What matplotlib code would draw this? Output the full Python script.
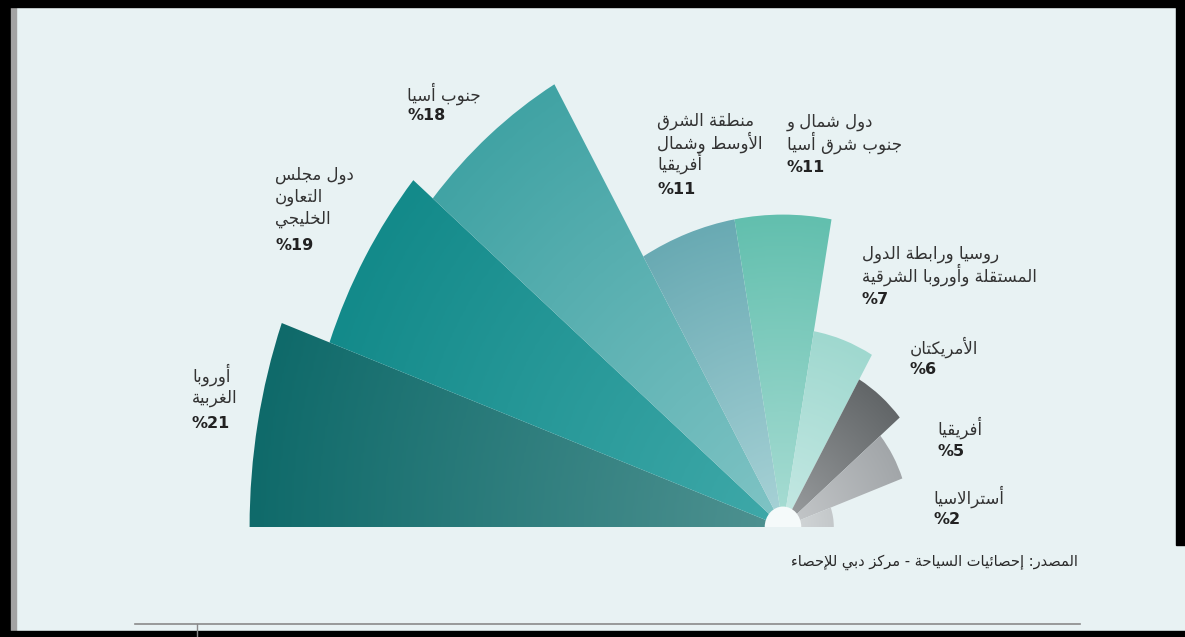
import numpy as np
import matplotlib
matplotlib.use("Agg")
import matplotlib.pyplot as plt
from matplotlib.patches import Wedge, Rectangle
from matplotlib.colors import LinearSegmentedColormap

# data
regions = [
    ["أوروبا", "الغربية"],
    ["دول مجلس", "التعاون", "الخليجي"],
    ["جنوب أسيا"],
    ["منطقة الشرق", "الأوسط وشمال", "أفريقيا"],
    ["دول شمال و", "جنوب شرق أسيا"],
    ["روسيا ورابطة الدول", "المستقلة وأوروبا الشرقية"],
    ["الأمريكتان"],
    ["أفريقيا"],
    ["أسترالاسيا"],
]
shares = [21, 19, 18, 11, 11, 7, 6, 5, 2]
source = "المصدر: إحصائيات السياحة - مركز دبي للإحصاء"

# wedge colours (inner, outer)
inner_cols = ["#4f9291", "#3fa9a9", "#80c4c5", "#a9d3d7", "#a9ddd4", "#c6e9e4", "#9c9fa1", "#c6c9cb", "#d6dadb"]
outer_cols = ["#0f6a6a", "#138a8a", "#41a3a4", "#69aab3", "#62bfae", "#9fd8cf", "#626668", "#a2a6a9", "#c4c8ca"]

# label placement (pixels: x, line y's, percent y)
label_pos = [
    (192, [375, 398], 423),
    (275, [175, 197, 219], 245),
    (407, [94], 115),
    (657, [121, 142, 163], 189),
    (787, [122, 143], 167),
    (862, [254, 275], 300),
    (910, [347], 370),
    (937, [428], 452),
    (933, [497], 520),
]

# --- simple arabic shaping (presentation forms) ---
FORMS = {'ء': (0xFE80, 1), 'آ': (0xFE81, 2), 'أ': (0xFE83, 2), 'ؤ': (0xFE85, 2), 'إ': (0xFE87, 2),
         'ئ': (0xFE89, 4), 'ا': (0xFE8D, 2), 'ب': (0xFE8F, 4), 'ة': (0xFE93, 2), 'ت': (0xFE95, 4),
         'ث': (0xFE99, 4), 'ج': (0xFE9D, 4), 'ح': (0xFEA1, 4), 'خ': (0xFEA5, 4), 'د': (0xFEA9, 2),
         'ذ': (0xFEAB, 2), 'ر': (0xFEAD, 2), 'ز': (0xFEAF, 2), 'س': (0xFEB1, 4), 'ش': (0xFEB5, 4),
         'ص': (0xFEB9, 4), 'ض': (0xFEBD, 4), 'ط': (0xFEC1, 4), 'ظ': (0xFEC5, 4), 'ع': (0xFEC9, 4),
         'غ': (0xFECD, 4), 'ف': (0xFED1, 4), 'ق': (0xFED5, 4), 'ك': (0xFED9, 4), 'ل': (0xFEDD, 4),
         'م': (0xFEE1, 4), 'ن': (0xFEE5, 4), 'ه': (0xFEE9, 4), 'و': (0xFEED, 2), 'ى': (0xFEEF, 2),
         'ي': (0xFEF1, 4)}
LAM_ALEF = {'آ': 0xFEF5, 'أ': 0xFEF7, 'إ': 0xFEF9, 'ا': 0xFEFB}


def ar(s):
    # contextual forms, then reverse for right-to-left display
    out = []
    i = 0
    n = len(s)
    while i < n:
        ch = s[i]
        if ch not in FORMS:
            out.append(ch)
            i += 1
            continue
        prev = s[i - 1] if i > 0 else None
        pj = prev in FORMS and FORMS[prev][1] == 4
        if ch == 'ل' and i + 1 < n and s[i + 1] in LAM_ALEF:
            base = LAM_ALEF[s[i + 1]]
            out.append(chr(base + 1 if pj else base))
            i += 2
            continue
        base, nf = FORMS[ch]
        nxt = s[i + 1] if i + 1 < n else None
        nj = nf == 4 and nxt in FORMS and FORMS[nxt][1] >= 2
        if nf == 4:
            idx = 3 if (pj and nj) else 1 if pj else 2 if nj else 0
        elif nf == 2:
            idx = 1 if pj else 0
        else:
            idx = 0
        out.append(chr(base + idx))
        i += 1
    return "".join(reversed(out))


# --- figure ---
W, H = 1185, 637
CX, CY = 783, 527          # centre of the fan in pixels
SX, SY = 25.4, 28.4        # pixels per percentage point (x, y)

fig = plt.figure(figsize=(W / 100, H / 100), dpi=100)
fig.patch.set_facecolor("#e8f2f3")
ax = fig.add_axes([0, 0, 1, 1])
ax.set_facecolor("#e8f2f3")

step = 180 / len(shares)
gx = np.linspace(-22, 22, 500)
gy = np.linspace(0, 22, 260)
XX, YY = np.meshgrid(gx, gy)
RR = np.hypot(XX, YY)
for i, v in enumerate(shares):
    t2 = 180 - i * step
    t1 = t2 - step
    w = Wedge((0, 0), v, t1, t2, facecolor="none", edgecolor="none")
    ax.add_patch(w)
    cmap = LinearSegmentedColormap.from_list("g%d" % i, [inner_cols[i], outer_cols[i]])
    im = ax.imshow(np.clip(RR / v, 0, 1), extent=[-22, 22, 0, 22], origin="lower",
                   cmap=cmap, vmin=0, vmax=1, aspect="auto", interpolation="bilinear", zorder=2)
    im.set_clip_path(w)

ax.add_patch(Wedge((0, 0), 0.72, 0, 180, facecolor="#f5fafa", edgecolor="none", zorder=3))

ax.set_xlim(-CX / SX, (W - CX) / SX)
ax.set_ylim(-(H - CY) / SY, CY / SY)
ax.axis("off")


def fx(x):
    return x / W


def fy(y):
    return 1 - y / H


afont = dict(family="DejaVu Sans", fontsize=12, color="#333333")
pfont = dict(family="DejaVu Sans", fontsize=11.5, color="#222222", fontweight="bold")
for (x, ys, py), lines, v in zip(label_pos, regions, shares):
    for yy, line in zip(ys, lines):
        fig.text(fx(x), fy(yy), ar(line), ha="left", va="center", **afont)
    fig.text(fx(x), fy(py), "%" + str(v), ha="left", va="center", **pfont)

fig.text(fx(1078), fy(562), ar(source), ha="right", va="center",
         family="DejaVu Sans", fontsize=10.5, color="#2a2a2a")

# bottom rule and frame
fig.add_artist(plt.Line2D([fx(135), fx(1080)], [fy(624), fy(624)], color="#8a8a8a", lw=1.2))
fig.add_artist(plt.Line2D([fx(197), fx(197)], [fy(624), fy(637)], color="#8a8a8a", lw=1))
fig.add_artist(Rectangle((0, 0), fx(11), 1, transform=fig.transFigure, color="black"))
fig.add_artist(Rectangle((fx(11), 0), fx(5), 1, transform=fig.transFigure, color="#a3a3a3"))
fig.add_artist(Rectangle((0, fy(7)), 1, 7 / H, transform=fig.transFigure, color="black"))
fig.add_artist(Rectangle((0, 0), 1, 6 / H, transform=fig.transFigure, color="black"))
fig.add_artist(Rectangle((fx(1176), fy(545)), 9 / W, 545 / H, transform=fig.transFigure, color="black"))

fig.savefig("out.png", dpi=100, facecolor=fig.get_facecolor())
